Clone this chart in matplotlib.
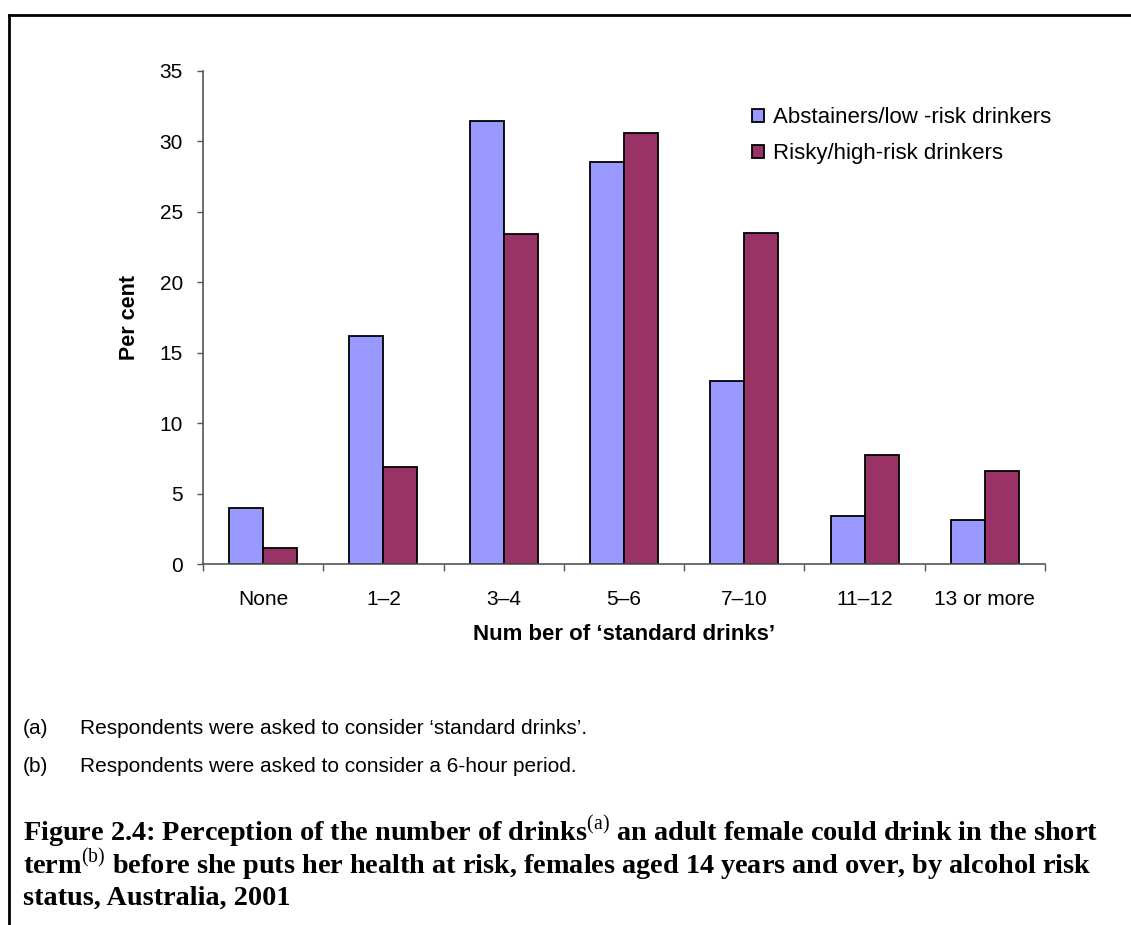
import numpy as np
import matplotlib
matplotlib.use("Agg")
import matplotlib.pyplot as plt
import matplotlib.transforms as mtransforms
from matplotlib.lines import Line2D

plt.rcParams['font.family'] = ['Liberation Sans', 'DejaVu Sans']
plt.rcParams['mathtext.fontset'] = 'custom'
plt.rcParams['mathtext.rm'] = 'Liberation Serif'
plt.rcParams['mathtext.bf'] = 'Liberation Serif:bold'

# data
categories = ['None', '1–2', '3–4', '5–6', '7–10', '11–12', '13 or more']
abstainers = [4.0, 16.2, 31.4, 28.5, 13.0, 3.4, 3.1]
risky = [1.1, 6.9, 23.4, 30.6, 23.5, 7.7, 6.6]
series_names = ['Abstainers/low -risk drinkers', 'Risky/high-risk drinkers']
y_ticks = [0, 5, 10, 15, 20, 25, 30, 35]

W, H = 1131, 925
fig = plt.figure(figsize=(W / 100, H / 100), dpi=100)

# frame round the figure (top and left only)
fig.add_artist(Line2D([9 / W, 9 / W], [0, 1 - 15 / H], color='black', lw=2))
fig.add_artist(Line2D([9 / W, 1], [1 - 15 / H, 1 - 15 / H], color='black', lw=2))

ax = fig.add_axes([203 / W, 1 - 564 / H, (1045 - 203) / W, (564 - 70.7) / H])

x = np.arange(len(categories))
bw = 0.283
ax.bar(x - bw / 2, abstainers, bw, color='#9999FF', edgecolor='black', lw=1.3,
       label=series_names[0])
ax.bar(x + bw / 2, risky, bw, color='#993366', edgecolor='black', lw=1.3,
       label=series_names[1])

ax.set_xlim(-0.5, len(categories) - 0.5)
ax.set_ylim(0, 35)
ax.set_yticks(y_ticks)
ax.tick_params(axis='y', labelsize=15, length=4.5, width=1, color='#555555', pad=10)

ax.set_xticks(x)
ax.set_xticklabels(categories)
ax.set_xticks(np.arange(len(categories) + 1) - 0.5, minor=True)
ax.tick_params(axis='x', which='major', labelsize=15, length=0, pad=19)
ax.tick_params(axis='x', which='minor', length=5, width=1, color='#555555')

for s in ['top', 'right']:
    ax.spines[s].set_visible(False)
for s in ['left', 'bottom']:
    ax.spines[s].set_color('#555555')
    ax.spines[s].set_linewidth(1.2)

ax.set_ylabel('Per cent', fontsize=15.5, fontweight='bold')
ax.yaxis.set_label_coords(140 / W, 1 - 317 / H, transform=fig.transFigure)
ax.set_xlabel('Num ber of ‘standard drinks’', fontsize=16, fontweight='bold')
ax.xaxis.set_label_coords(
    0.5, 1 - 635 / H,
    transform=mtransforms.blended_transform_factory(ax.transAxes, fig.transFigure))
ax.xaxis.label.set_va('center')

leg = ax.legend(loc='upper left', bbox_to_anchor=(752 / W, 1 - 107 / H),
                bbox_transform=fig.transFigure, frameon=False, fontsize=16,
                handlelength=0.52, handleheight=0.52, handletextpad=0.42,
                labelspacing=0.68, borderpad=0, borderaxespad=0)

# footnotes
notes = [('(a)', 'Respondents were asked to consider ‘standard drinks’.', 728),
         ('(b)', 'Respondents were asked to consider a 6-hour period.', 767)]
for tag, txt, yy in notes:
    fig.text(23 / W, 1 - yy / H, tag, fontsize=15, va='center')
    fig.text(80 / W, 1 - yy / H, txt, fontsize=15, va='center')

# caption
title_lines = [
    r'Figure 2.4: Perception of the number of drinks$^{\mathrm{(a)}}$ an adult female could drink in the short',
    r'term$^{\mathrm{(b)}}$ before she puts her health at risk, females aged 14 years and over, by alcohol risk',
    'status, Australia, 2001',
]
for line, yy in zip(title_lines, [832, 865, 898]):
    fig.text(23 / W, 1 - yy / H, line, fontsize=20.3, fontweight='bold',
             family='Liberation Serif', va='center')

fig.savefig('out.png', dpi=100)
